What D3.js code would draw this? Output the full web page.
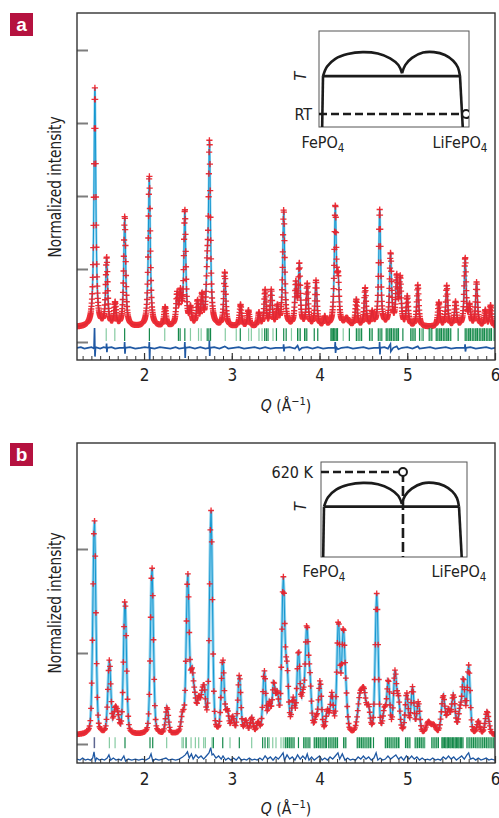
<!DOCTYPE html>
<html>
<head>
<meta charset="utf-8">
<script src="https://cdn.jsdelivr.net/npm/d3@7"></script>
<style>
  body { margin: 0; background: #fff; }
  svg text { font-family: "Liberation Sans Narrow", "DejaVu Sans Condensed", "Arial Narrow", sans-serif; fill: #222; }
</style>
</head>
<body>
<svg id="chart" width="499" height="818"></svg>
<script>
// ---- shared axis data ----
const qDomain = [1.236, 6];
const xTicks = [2, 3, 4, 5, 6];

// ---- panel a (room temperature) ----
// peaks: [Q, height above background, HWHM]
const bgA = 0.2;
const peaksA = [
  [1.440, 3.27], [1.574, 0.93], [1.670, 0.31], [1.780, 1.51], [2.060, 2.07],
  [2.240, 0.26], [2.377, 0.42], [2.415, 0.40], [2.465, 1.57], [2.530, 0.22],
  [2.610, 0.31], [2.660, 0.38], [2.720, 0.55], [2.746, 2.45], [2.920, 0.74],
  [3.100, 0.30], [3.190, 0.22], [3.310, 0.18], [3.380, 0.49], [3.450, 0.48],
  [3.520, 0.25], [3.592, 1.59], [3.730, 0.55], [3.770, 0.82], [3.860, 0.57],
  [3.960, 0.62], [4.060, 0.12], [4.180, 1.60], [4.212, 0.55], [4.310, 0.10, 0.03],
  [4.420, 0.36], [4.520, 0.52], [4.600, 0.18], [4.686, 1.59], [4.810, 0.98],
  [4.880, 0.64], [4.920, 0.63], [5.000, 0.40], [5.120, 0.57], [5.360, 0.33],
  [5.450, 0.56], [5.550, 0.33], [5.660, 0.93], [5.710, 0.26], [5.790, 0.60],
  [5.890, 0.22], [5.950, 0.29]
];
const reflDarkA = [
  1.779, 2.061, 2.392, 2.411, 2.465, 2.72, 2.739, 2.758, 3.097, 3.375, 3.394, 3.413,
  3.509, 3.592, 3.62, 3.75, 3.78, 3.83, 3.855, 3.94, 3.98, 4.13, 4.145, 4.16, 4.175,
  4.19, 4.205, 4.34, 4.42, 4.45, 4.48, 4.57, 4.6, 4.67, 4.69, 4.71, 4.76, 4.78, 4.8,
  4.82, 4.84, 4.86, 4.88, 4.9, 4.95, 5.04, 5.065, 5.09, 5.14, 5.18, 5.25, 5.28, 5.33,
  5.35, 5.37, 5.39, 5.41, 5.43, 5.45, 5.47, 5.49, 5.58, 5.66, 5.68, 5.70, 5.72, 5.74,
  5.76, 5.78, 5.80, 5.82, 5.84, 5.86, 5.88, 5.90, 5.92, 5.94, 5.96, 5.99
];
const reflLightA = [
  1.569, 1.667, 2.236, 2.529, 2.621, 2.651, 2.926, 3.051, 3.192, 3.223, 3.31, 3.345,
  3.47, 3.68, 3.765, 3.842, 4.137, 4.168, 4.198, 4.27, 4.435, 4.465, 4.585, 4.77, 4.81,
  4.85, 4.89, 5.052, 5.078, 5.16, 5.265, 5.34, 5.38, 5.42, 5.46, 5.50, 5.67, 5.71, 5.75,
  5.79, 5.83, 5.87, 5.91, 5.95
];
const diffA = [
  [1.236,-0.08],[1.28,-0.07],[1.32,-0.09],[1.36,-0.08],[1.40,-0.07],[1.43,-0.09],
  [1.436,0.19],[1.441,-0.20],[1.447,-0.07],[1.50,-0.09],[1.54,-0.07],[1.570,-0.08],
  [1.573,-0.02],[1.577,-0.14],[1.581,-0.08],[1.63,-0.07],[1.67,-0.09],[1.72,-0.08],
  [1.776,-0.08],[1.779,0.0],[1.783,-0.16],[1.787,-0.08],[1.84,-0.07],[1.90,-0.09],
  [1.96,-0.08],[2.01,-0.07],[2.057,-0.08],[2.060,0.0],[2.064,-0.25],[2.068,-0.08],
  [2.12,-0.09],[2.18,-0.07],[2.24,-0.08],[2.30,-0.09],[2.36,-0.07],[2.40,-0.09],
  [2.462,-0.08],[2.465,0.0],[2.469,-0.22],[2.473,-0.08],[2.52,-0.07],[2.58,-0.09],
  [2.64,-0.07],[2.70,-0.09],[2.742,-0.08],[2.745,0.02],[2.749,-0.19],[2.753,-0.08],
  [2.80,-0.07],[2.86,-0.09],[2.92,-0.06],[2.96,-0.09],[3.02,-0.08],[3.08,-0.07],
  [3.14,-0.09],[3.20,-0.08],[3.26,-0.07],[3.32,-0.09],[3.38,-0.07],[3.44,-0.09],
  [3.50,-0.08],[3.588,-0.08],[3.591,-0.03],[3.595,-0.13],[3.60,-0.08],[3.66,-0.07],
  [3.72,-0.09],[3.75,-0.05],[3.77,-0.11],[3.80,-0.08],[3.86,-0.07],[3.92,-0.09],
  [3.98,-0.07],[4.04,-0.09],[4.10,-0.08],[4.176,-0.08],[4.179,0.0],[4.183,-0.15],
  [4.19,-0.07],[4.21,-0.10],[4.25,-0.08],[4.32,-0.07],[4.38,-0.09],[4.44,-0.08],
  [4.50,-0.07],[4.56,-0.09],[4.62,-0.08],[4.682,-0.08],[4.685,0.0],[4.689,-0.17],
  [4.693,-0.08],[4.74,-0.07],[4.78,-0.09],[4.808,-0.03],[4.813,-0.13],[4.84,-0.08],
  [4.88,-0.06],[4.90,-0.10],[4.94,-0.08],[5.00,-0.07],[5.06,-0.09],[5.12,-0.06],
  [5.14,-0.09],[5.20,-0.08],[5.26,-0.07],[5.32,-0.09],[5.38,-0.08],[5.44,-0.07],
  [5.50,-0.09],[5.56,-0.08],[5.656,-0.08],[5.659,-0.03],[5.663,-0.13],[5.67,-0.08],
  [5.72,-0.07],[5.78,-0.09],[5.84,-0.08],[5.90,-0.07],[5.96,-0.09],[6.0,-0.08]
];
const yTicksA = [0, 1, 2, 3, 4];

// ---- panel b (620 K) ----
const bgB = 0.21;
const peaksB = [
  [1.434, 2.07], [1.605, 0.70], [1.670, 0.20], [1.700, 0.15], [1.783, 1.29],
  [2.090, 1.61], [2.262, 0.25], [2.440, 0.17], [2.498, 1.51], [2.547, 0.50],
  [2.580, 0.25], [2.623, 0.28], [2.660, 0.25], [2.687, 0.33], [2.763, 2.14],
  [2.897, 0.70], [2.950, 0.20], [3.010, 0.15], [3.086, 0.56], [3.160, 0.12],
  [3.227, 0.15], [3.300, 0.10], [3.371, 0.59], [3.428, 0.26], [3.478, 0.44],
  [3.520, 0.33], [3.587, 1.45], [3.630, 0.55], [3.700, 0.30], [3.760, 0.76],
  [3.810, 0.30], [3.854, 0.95], [3.890, 0.46], [3.960, 0.12], [4.006, 0.49],
  [4.090, 0.20], [4.140, 0.36], [4.215, 1.05], [4.270, 0.91], [4.300, 0.30],
  [4.460, 0.31, 0.03], [4.507, 0.36, 0.03], [4.560, 0.20], [4.652, 1.34],
  [4.740, 0.20], [4.784, 0.49], [4.860, 0.57], [4.900, 0.30], [4.994, 0.38],
  [5.060, 0.44], [5.126, 0.30], [5.240, 0.11, 0.03], [5.300, 0.08, 0.03],
  [5.410, 0.36, 0.025], [5.470, 0.20], [5.525, 0.36, 0.025], [5.600, 0.20],
  [5.640, 0.50], [5.700, 0.65], [5.810, 0.12], [5.910, 0.22, 0.025]
];
const reflOddB = [1.434];
const reflDarkB = [
  1.783, 2.068, 2.099, 2.479, 2.79, 2.897, 3.086, 3.352, 3.379, 3.41,
  3.61, 3.635, 3.66, 3.685, 3.71, 3.76, 3.82, 3.845, 3.87, 3.89, 3.94, 3.965, 3.99,
  4.015, 4.04, 4.065, 4.08, 4.105, 4.13, 4.155, 4.18, 4.205, 4.275, 4.30, 4.43, 4.455,
  4.48, 4.505, 4.53, 4.555, 4.58, 4.615, 4.75, 4.775, 4.80, 4.825, 4.85, 4.875, 4.90,
  4.98, 5.005, 5.03, 5.09, 5.115, 5.14, 5.165, 5.19, 5.28, 5.305, 5.33, 5.355, 5.395,
  5.41, 5.425, 5.44, 5.455, 5.47, 5.485, 5.50, 5.515, 5.53, 5.545, 5.56, 5.575, 5.59,
  5.605, 5.62, 5.635, 5.68, 5.705, 5.73, 5.755, 5.78, 5.805, 5.83, 5.855, 5.88, 5.905,
  5.93, 5.955, 5.98
];
const reflLightB = [
  1.605, 1.67, 2.258, 2.433, 2.448, 2.536, 2.585, 2.623, 2.68, 2.699, 2.775, 2.98,
  3.227, 3.428, 3.467, 3.504, 3.561, 3.587, 3.622, 3.647, 3.672, 3.697, 3.832, 3.857,
  3.952, 3.977, 4.003, 4.028, 4.052, 4.117, 4.142, 4.167, 4.192, 4.288, 4.442, 4.467,
  4.492, 4.517, 4.542, 4.567, 4.59, 4.762, 4.787, 4.812, 4.837, 4.862, 4.887, 4.91,
  4.992, 5.018, 5.102, 5.127, 5.152, 5.177, 5.2, 5.292, 5.317, 5.342, 5.402, 5.432,
  5.462, 5.492, 5.522, 5.552, 5.582, 5.612, 5.692, 5.717, 5.742, 5.767, 5.792, 5.817,
  5.842, 5.867, 5.892, 5.917, 5.942, 5.967, 5.992
];
const diffB = [
  [1.236,-0.02],[1.27,-0.03],[1.30,-0.01],[1.33,-0.03],[1.36,-0.02],[1.39,-0.03],
  [1.415,-0.01],[1.43,0.05],[1.445,-0.04],[1.46,-0.01],[1.49,-0.03],[1.52,-0.02],
  [1.55,-0.03],[1.58,-0.01],[1.60,0.02],[1.62,-0.03],[1.65,-0.01],[1.68,-0.03],
  [1.71,-0.02],[1.74,-0.03],[1.77,0.01],[1.79,-0.04],[1.82,-0.02],[1.86,-0.03],
  [1.90,-0.02],[1.94,-0.03],[1.98,-0.02],[2.02,-0.03],[2.06,-0.01],[2.08,0.03],
  [2.10,-0.04],[2.13,-0.02],[2.17,-0.03],[2.21,-0.02],[2.25,-0.01],[2.28,-0.03],
  [2.32,-0.02],[2.36,-0.03],[2.40,-0.02],[2.44,0.0],[2.47,0.02],[2.495,0.05],
  [2.515,-0.01],[2.54,0.03],[2.56,-0.02],[2.59,0.02],[2.62,-0.01],[2.65,0.01],
  [2.68,-0.02],[2.71,0.01],[2.74,0.04],[2.76,0.09],[2.775,0.02],[2.79,0.03],
  [2.82,-0.01],[2.85,0.01],[2.88,-0.02],[2.90,0.01],[2.93,-0.03],[2.96,-0.01],
  [2.99,-0.03],[3.02,-0.01],[3.05,-0.03],[3.08,0.0],[3.11,-0.03],[3.14,-0.02],
  [3.17,-0.03],[3.20,-0.01],[3.23,-0.03],[3.26,-0.02],[3.29,-0.03],[3.32,-0.01],
  [3.35,-0.03],[3.38,0.01],[3.41,-0.02],[3.44,0.0],[3.47,-0.03],[3.50,0.0],
  [3.53,-0.02],[3.56,0.01],[3.585,0.04],[3.60,-0.03],[3.63,0.02],[3.66,-0.02],
  [3.69,0.0],[3.72,-0.03],[3.75,0.02],[3.78,-0.02],[3.81,0.01],[3.84,-0.02],
  [3.86,0.03],[3.88,-0.03],[3.91,0.0],[3.94,-0.03],[3.97,-0.01],[4.00,0.01],
  [4.03,-0.03],[4.06,-0.01],[4.09,-0.03],[4.12,0.0],[4.15,-0.02],[4.18,0.01],
  [4.21,0.04],[4.23,-0.02],[4.26,0.03],[4.29,-0.03],[4.32,-0.01],[4.35,-0.03],
  [4.38,-0.02],[4.41,-0.03],[4.44,0.0],[4.47,-0.02],[4.50,0.01],[4.53,-0.02],
  [4.56,0.0],[4.59,-0.03],[4.62,-0.01],[4.645,0.04],[4.665,-0.03],[4.69,-0.01],
  [4.72,-0.03],[4.75,-0.02],[4.78,0.01],[4.81,-0.02],[4.84,0.0],[4.87,0.02],
  [4.90,-0.02],[4.93,0.0],[4.96,-0.03],[4.99,0.01],[5.02,-0.02],[5.05,0.01],
  [5.08,-0.02],[5.11,0.0],[5.14,-0.03],[5.17,-0.01],[5.20,-0.03],[5.23,-0.02],
  [5.26,-0.03],[5.29,-0.01],[5.32,-0.03],[5.35,-0.02],[5.38,-0.03],[5.41,0.0],
  [5.44,-0.02],[5.47,0.01],[5.50,-0.02],[5.53,0.0],[5.56,-0.03],[5.59,-0.01],
  [5.62,0.01],[5.65,-0.02],[5.68,0.02],[5.70,0.04],[5.72,-0.02],[5.75,-0.01],
  [5.78,-0.03],[5.81,-0.01],[5.84,-0.03],[5.87,-0.02],[5.90,-0.01],[5.93,-0.03],
  [5.96,-0.02],[6.0,-0.03]
];
const yTicksB = [0.125, 1, 2];

// ---- phase diagram inset (composition 0 = FePO4, 1 = LiFePO4; T normalised) ----
const solvusLeft = [[-0.006, 0], [0, 0.53]];
const solvusRight = [[1.02, 0], [1.0, 0.53]];
const eutectoid = [[0, 0.53], [1, 0.53]];
const domeLeft = [[0, 0.53], [0.03, 0.63], [0.09, 0.71], [0.18, 0.76], [0.29, 0.78],
  [0.40, 0.765], [0.49, 0.715], [0.55, 0.645], [0.577, 0.56]];
const domeRight = [[0.577, 0.56], [0.60, 0.645], [0.65, 0.72], [0.73, 0.775], [0.81, 0.78],
  [0.89, 0.75], [0.95, 0.69], [0.985, 0.62], [1.0, 0.53]];
const tRT = 0.135, cRT = 1.045;
const t620 = 0.895, c620 = 0.585;

const svg = d3.select("#chart");
const clipId = (() => { let n = 0; return () => "clip" + (n++); })();

function intensity(q, peaks, bg, wDef, eta) {
  let s = bg;
  for (const p of peaks) {
    const t = (q - p[0]) / (p[2] || wDef);
    s += p[1] * (eta / (1 + t * t) + (1 - eta) * Math.exp(-0.6931 * t * t));
  }
  return s;
}

function drawPanel(o) {
  const g = svg.append("g");
  const x = d3.scaleLinear().domain(qDomain).range([o.left, o.right]);
  const y = d3.scaleLinear().domain(o.yRef).range(o.yRefPx);

  const cid = clipId();
  g.append("clipPath").attr("id", cid).append("rect")
    .attr("x", o.left).attr("y", o.top)
    .attr("width", o.right - o.left).attr("height", o.bottom - o.top);
  const plot = g.append("g").attr("clip-path", `url(#${cid})`);

  const qs = d3.range(qDomain[0], qDomain[1] + 1e-9, o.step);
  const pts = qs.map(q => [q, intensity(q, o.peaks, o.bg, o.w, o.eta)]);
  const line = d3.line().x(d => x(d[0])).y(d => y(d[1]));

  // calculated profile
  plot.append("path").datum(pts).attr("d", line)
    .attr("fill", "none").attr("stroke", "#8fd2ee").attr("stroke-width", o.calcW);
  plot.append("path").datum(pts).attr("d", line)
    .attr("fill", "none").attr("stroke", "#1597d0").attr("stroke-width", 1);

  // observed points as crosses
  const h = o.cross;
  const cross = pts.map(d => {
    const px = x(d[0]), py = y(d[1]);
    return `M${(px - h).toFixed(2)},${py.toFixed(2)}h${2 * h}M${px.toFixed(2)},${(py - h).toFixed(2)}v${2 * h}`;
  }).join("");
  plot.append("path").attr("d", cross)
    .attr("stroke", "#ee1c25").attr("stroke-width", 1.35).attr("stroke-opacity", 0.92);

  // reflection markers
  const tickSet = (arr, color, w) => plot.append("g").selectAll("line").data(arr).join("line")
    .attr("x1", d => x(d)).attr("x2", d => x(d))
    .attr("y1", y(o.reflTop)).attr("y2", y(o.reflBottom))
    .attr("stroke", color).attr("stroke-width", w);
  tickSet(o.reflLight, "#86cba2", 1.2);
  tickSet(o.reflDark, "#14884a", 1.2);
  if (o.reflOdd) tickSet(o.reflOdd, "#5d6690", 1.5);

  // difference curve
  plot.append("path").datum(o.diff).attr("d", line)
    .attr("fill", "none").attr("stroke", "#1f58a3").attr("stroke-width", o.diffW);

  // axes
  const xAxis = g.append("g").attr("transform", `translate(0,${o.bottom})`)
    .call(d3.axisBottom(x).tickValues(xTicks).tickSizeInner(-7).tickSizeOuter(0)
      .tickPadding(o.labelPad).tickFormat(d3.format("d")));
  xAxis.select(".domain").remove();
  xAxis.selectAll("line").attr("stroke", "#333").attr("stroke-width", 1.2);
  xAxis.selectAll("text").attr("font-size", 17).attr("fill", "#222")
    .style("font-family", "'Liberation Sans Narrow','DejaVu Sans Condensed',sans-serif");

  const minor = g.append("g").attr("transform", `translate(0,${o.bottom})`)
    .call(d3.axisBottom(x).ticks(48).tickSizeInner(-4).tickSizeOuter(0).tickFormat(""));
  minor.select(".domain").remove();
  minor.selectAll("line").attr("stroke", "#333").attr("stroke-width", 1);

  const yAxis = g.append("g").attr("transform", `translate(${o.left},0)`)
    .call(d3.axisLeft(y).tickValues(o.yTicks).tickSizeInner(-11).tickSizeOuter(0).tickFormat(""));
  yAxis.select(".domain").remove();
  yAxis.selectAll("line").attr("stroke", "#7d7d7d").attr("stroke-width", 2);

  // frame
  g.append("rect").attr("x", o.left).attr("y", o.top)
    .attr("width", o.right - o.left).attr("height", o.bottom - o.top)
    .attr("fill", "none").attr("stroke", "#333").attr("stroke-width", 1.4);

  // axis titles
  const xt = g.append("text").attr("x", 286).attr("y", o.xTitleY)
    .attr("text-anchor", "middle").attr("font-size", 15.5);
  xt.append("tspan").attr("font-style", "italic").text("Q");
  xt.append("tspan").text(" (Å");
  xt.append("tspan").attr("dy", -6).attr("font-size", 11).text("−1");
  xt.append("tspan").attr("dy", 6).text(")");

  g.append("text").attr("transform", `translate(61,${o.yTitleY}) rotate(-90)`)
    .attr("text-anchor", "middle").attr("font-size", 18)
    .attr("textLength", 141).attr("lengthAdjust", "spacingAndGlyphs")
    .text("Normalized intensity");

  // panel letter
  g.append("rect").attr("x", 10).attr("y", o.top).attr("width", 23).attr("height", 23)
    .attr("fill", "#b5123f");
  g.append("text").attr("x", 21.5).attr("y", o.top + 17.5).attr("text-anchor", "middle")
    .attr("font-size", 19).attr("font-weight", "bold").style("fill", "#fff")
    .style("font-family", "'Liberation Sans','DejaVu Sans',sans-serif").text(o.letter);
}

function drawInset(o) {
  const g = svg.append("g");
  const cx = d3.scaleLinear().domain([0, 1]).range(o.compPx);
  const ty = d3.scaleLinear().domain([0, 1]).range([o.box[3], o.box[1]]);
  const lin = d3.line().x(d => cx(d[0])).y(d => ty(d[1]));
  const curve = d3.line().x(d => cx(d[0])).y(d => ty(d[1])).curve(d3.curveCatmullRom);

  g.append("rect").attr("x", o.box[0]).attr("y", o.box[1])
    .attr("width", o.box[2] - o.box[0]).attr("height", o.box[3] - o.box[1])
    .attr("fill", "#fff").attr("stroke", "#555").attr("stroke-width", 1);

  const stroke = sel => sel.attr("fill", "none").attr("stroke", "#1b1b1b").attr("stroke-width", 2.6);
  [solvusLeft, solvusRight, eutectoid].forEach(d => g.append("path").datum(d).attr("d", lin).call(stroke));
  [domeLeft, domeRight].forEach(d => g.append("path").datum(d).attr("d", curve).call(stroke));

  const cid = clipId();
  g.append("clipPath").attr("id", cid).append("rect")
    .attr("x", o.box[0]).attr("y", o.box[1])
    .attr("width", o.box[2] - o.box[0]).attr("height", o.box[3] - o.box[1]);
  const dash = g.append("g").attr("clip-path", `url(#${cid})`);
  const xStart = cx.invert(o.box[0]);
  dash.append("path").datum([[xStart, o.tMark], [o.cMark, o.tMark]]).attr("d", lin)
    .call(stroke).attr("stroke-dasharray", "8,4");
  if (o.vertical) {
    dash.append("path").datum([[o.cMark, o.tMark], [o.cMark, 0]]).attr("d", lin)
      .call(stroke).attr("stroke-dasharray", "10,4");
  }
  dash.append("circle").attr("cx", cx(o.cMark)).attr("cy", ty(o.tMark)).attr("r", 4)
    .attr("fill", "#fff").attr("stroke", "#1b1b1b").attr("stroke-width", 2);

  // labels
  g.append("text").attr("transform", `translate(306,${ty(0.53)}) rotate(-90)`)
    .attr("text-anchor", "middle").attr("font-size", 16).attr("font-style", "italic").text("T");
  g.append("text").attr("x", o.markLabelX).attr("y", ty(o.tMark) + 6)
    .attr("text-anchor", "end").attr("font-size", 16).text(o.markLabel);

  const formula = (cxPos, pre) => {
    const t = g.append("text").attr("x", cxPos).attr("y", o.formulaY)
      .attr("text-anchor", "middle").attr("font-size", 16);
    t.append("tspan").text(pre + "PO");
    t.append("tspan").attr("dy", 4).attr("font-size", 11.5).text("4");
  };
  formula(cx(0), "Fe");
  formula(cx(1), "LiFe");
}

drawPanel({
  letter: "a", left: 77, right: 495, top: 13, bottom: 360,
  yRef: [0, 4], yRefPx: [342, 50], yTicks: yTicksA,
  peaks: peaksA, bg: bgA, w: 0.013, eta: 0.85, step: 0.003, calcW: 2.2, cross: 3.1,
  reflDark: reflDarkA, reflLight: reflLightA, reflTop: 0.19, reflBottom: 0.015,
  diff: diffA, diffW: 1.7, labelPad: 9, xTitleY: 411, yTitleY: 187
});
drawPanel({
  letter: "b", left: 77, right: 495, top: 443, bottom: 763,
  yRef: [1, 2], yRefPx: [653, 549], yTicks: yTicksB,
  peaks: peaksB, bg: bgB, w: 0.02, eta: 0.3, step: 0.008, calcW: 3, cross: 2.9,
  reflDark: reflDarkB, reflLight: reflLightB, reflOdd: reflOddB, reflTop: 0.19, reflBottom: 0.085,
  diff: diffB, diffW: 1.3, labelPad: 10, xTitleY: 814, yTitleY: 603
});

drawInset({
  box: [319, 31, 469, 127], compPx: [323, 460], tMark: tRT, cMark: cRT, vertical: false,
  markLabel: "RT", markLabelX: 312, formulaY: 148
});
drawInset({
  box: [321, 462, 467, 557], compPx: [324, 459], tMark: t620, cMark: c620, vertical: true,
  markLabel: "620 K", markLabelX: 313, formulaY: 577
});
</script>
</body>
</html>
